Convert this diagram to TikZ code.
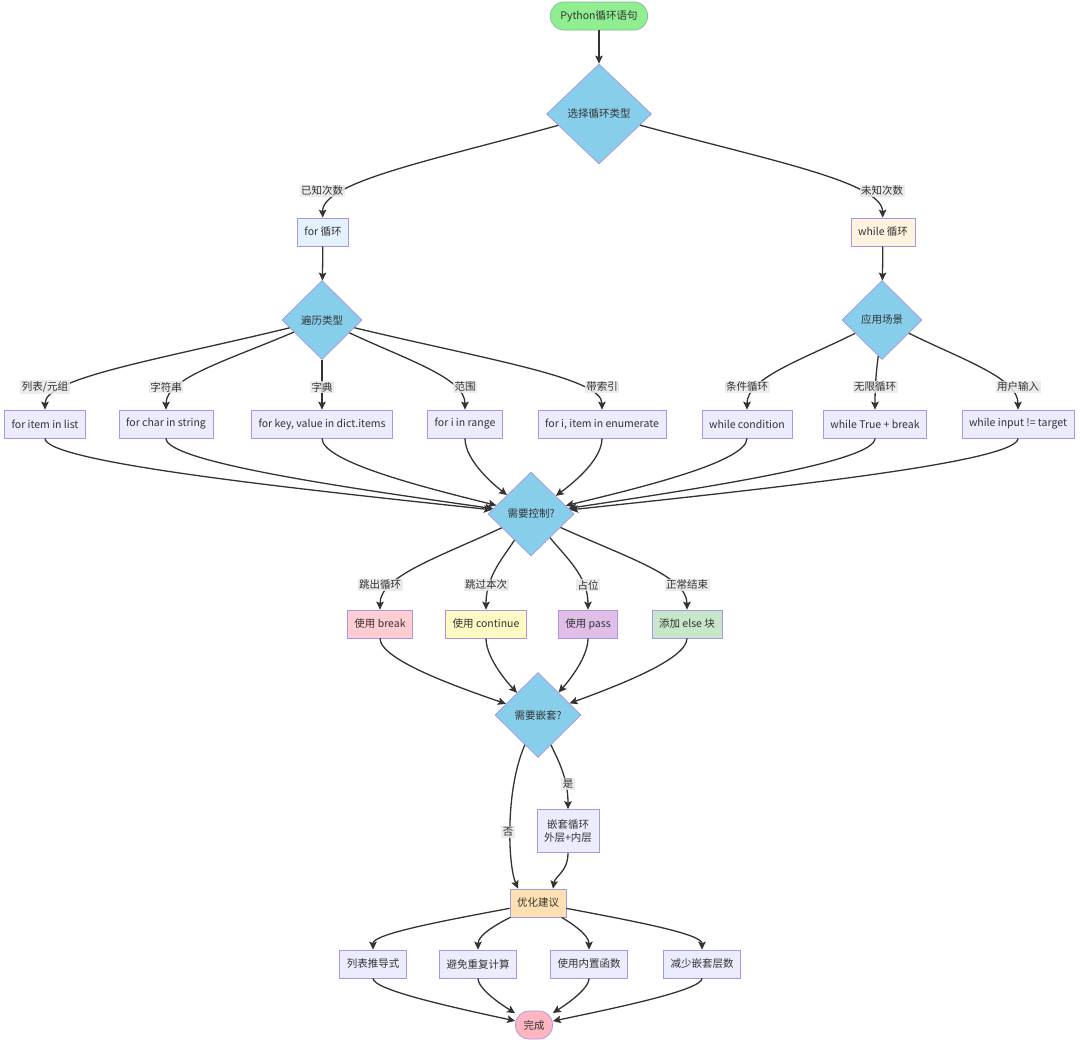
\documentclass[tikz,border=0pt]{standalone}
\usepackage{fontspec}
\setmainfont{Noto Sans CJK SC}
\usetikzlibrary{arrows.meta,calc,shapes.geometric}

\definecolor{inkgray}{HTML}{333333}
\definecolor{lavline}{HTML}{A896E6}
\definecolor{boxfill}{HTML}{ECECFF}
\definecolor{skyfill}{HTML}{87CEEB}
\definecolor{labelbg}{HTML}{E8E8E8}
\definecolor{startgreen}{HTML}{90EE90}
\definecolor{startline}{HTML}{7CBF8A}

\begin{document}
\begin{tikzpicture}[
    x=1pt, y=-1pt,
    >={Stealth[length=8pt,width=7.5pt,inset=1.5pt]},
    every node/.style={font=\fontsize{10.5}{13}\selectfont,text=inkgray},
    plain box/.style={rectangle,draw=lavline,fill=boxfill,line width=0.7pt,minimum height=28pt,inner xsep=7pt,inner ysep=2pt},
    decision/.style={diamond,draw=lavline,fill=skyfill,line width=0.7pt,inner sep=0pt},
    terminal/.style={rectangle,rounded corners=13.5pt,line width=0.7pt,minimum height=28pt,inner xsep=10pt},
    flow/.style={->,inkgray,line width=1.3pt},
    edge label/.style={fill=labelbg,fill opacity=0.85,text opacity=1,inner sep=1.5pt}
]

\useasboundingbox (0,0) rectangle (1080,1044);
\fill[white] (0,0) rectangle (1080,1044);

% Start and first choice
\node[terminal,fill=startgreen,draw=startline] (start) at (599,16) {Python循环语句};
\node[decision,minimum width=105pt,minimum height=100pt] (looptype) at (599,114) {选择循环类型};

% Two kinds of loop
\node[plain box,fill={rgb,255:red,227;green,242;blue,253}] (forloop) at (323,232) {for 循环};
\node[plain box,fill={rgb,255:red,255;green,243;blue,224}] (whileloop) at (883,232) {while 循环};

\node[decision,minimum width=80pt,minimum height=79pt] (itertype) at (322,320) {遍历类型};
\node[decision,minimum width=80pt,minimum height=79pt] (usecase) at (882,320) {应用场景};

% Loop forms
\node[plain box] (forlist) at (45,424) {for item in list};
\node[plain box] (forstr) at (166,424) {for char in string};
\node[plain box] (fordict) at (322,424) {for key, value in dict.items};
\node[plain box] (forrange) at (465,424) {for i in range};
\node[plain box] (forenum) at (602,424) {for i, item in enumerate};
\node[plain box] (whilecond) at (747,424) {while condition};
\node[plain box] (whiletrue) at (875,424) {while True + break};
\node[plain box] (whileinput) at (1018,424) {while input != target};

% Control
\node[decision,minimum width=86pt,minimum height=84pt] (needctrl) at (531,514) {需要控制?};

\node[plain box,fill={rgb,255:red,255;green,205;blue,210}] (usebreak) at (380,624) {使用 break};
\node[plain box,fill={rgb,255:red,255;green,249;blue,196}] (usecont) at (486,624) {使用 continue};
\node[plain box,fill={rgb,255:red,225;green,190;blue,231}] (usepass) at (588,624) {使用 pass};
\node[plain box,fill={rgb,255:red,200;green,230;blue,201}] (useelse) at (687,624) {添加 else 块};

% Nesting
\node[decision,minimum width=86pt,minimum height=85pt] (neednest) at (538,715) {需要嵌套?};
\node[plain box,align=center,minimum height=43pt] (nestloop) at (568,831) {嵌套循环\\外层+内层};

\node[plain box,fill={rgb,255:red,255;green,224;blue,178}] (optim) at (538,903) {优化建议};

\node[plain box] (listcomp) at (373,964) {列表推导式};
\node[plain box] (norepeat) at (478,964) {避免重复计算};
\node[plain box] (builtin) at (589,964) {使用内置函数};
\node[plain box] (lessnest) at (702,964) {减少嵌套层数};

\node[terminal,fill={rgb,255:red,255;green,182;blue,193},draw=lavline,inner xsep=8pt] (done) at (534,1025) {完成};

% Connectors, top part
\draw[flow] (start) -- (looptype);
\draw[flow] (looptype) .. controls ($(looptype)!0.6!(322,191)$) and (322,182) .. (forloop);
\draw[flow] (looptype) .. controls ($(looptype)!0.6!(882,191)$) and (882,182) .. (whileloop);
\draw[flow] (forloop) -- (itertype);
\draw[flow] (whileloop) -- (usecase);

% Connectors to the loop forms
\draw[flow] (itertype) .. controls ($(itertype)!0.6!(45,387)$) and (45,378) .. (forlist);
\draw[flow] (itertype) .. controls ($(itertype)!0.6!(166,387)$) and (166,378) .. (forstr);
\draw[flow] (itertype) -- (fordict);
\draw[flow] (itertype) .. controls ($(itertype)!0.6!(465,387)$) and (465,378) .. (forrange);
\draw[flow] (itertype) .. controls ($(itertype)!0.6!(602,387)$) and (602,378) .. (forenum);
\draw[flow] (usecase) .. controls ($(usecase)!0.6!(747,387)$) and (747,378) .. (whilecond);
\draw[flow] (usecase) .. controls ($(usecase)!0.6!(875,387)$) and (875,378) .. (whiletrue);
\draw[flow] (usecase) .. controls ($(usecase)!0.6!(1018,387)$) and (1018,378) .. (whileinput);

% Loop forms into the control choice
\draw[flow] (forlist) .. controls (45,462) and ($(45,462)!0.5!(needctrl)$) .. (needctrl);
\draw[flow] (forstr) .. controls (166,462) and ($(166,462)!0.5!(needctrl)$) .. (needctrl);
\draw[flow] (fordict) .. controls (322,462) and ($(322,462)!0.5!(needctrl)$) .. (needctrl);
\draw[flow] (forrange) .. controls (465,462) and ($(465,462)!0.5!(needctrl)$) .. (needctrl);
\draw[flow] (forenum) .. controls (602,462) and ($(602,462)!0.5!(needctrl)$) .. (needctrl);
\draw[flow] (whilecond) .. controls (747,462) and ($(747,462)!0.5!(needctrl)$) .. (needctrl);
\draw[flow] (whiletrue) .. controls (875,462) and ($(875,462)!0.5!(needctrl)$) .. (needctrl);
\draw[flow] (whileinput) .. controls (1018,462) and ($(1018,462)!0.5!(needctrl)$) .. (needctrl);

% Control statements
\draw[flow] (needctrl) .. controls ($(needctrl)!0.6!(380,585)$) and (380,576) .. (usebreak);
\draw[flow] (needctrl) .. controls ($(needctrl)!0.6!(486,585)$) and (486,576) .. (usecont);
\draw[flow] (needctrl) .. controls ($(needctrl)!0.6!(588,585)$) and (588,576) .. (usepass);
\draw[flow] (needctrl) .. controls ($(needctrl)!0.6!(687,585)$) and (687,576) .. (useelse);

\draw[flow] (usebreak) .. controls (380,660) and ($(380,660)!0.5!(neednest)$) .. (neednest);
\draw[flow] (usecont) .. controls (486,660) and ($(486,660)!0.5!(neednest)$) .. (neednest);
\draw[flow] (usepass) .. controls (588,660) and ($(588,660)!0.5!(neednest)$) .. (neednest);
\draw[flow] (useelse) .. controls (687,660) and ($(687,660)!0.5!(neednest)$) .. (neednest);

% Nesting branch
\draw[flow] (neednest) .. controls ($(neednest)!0.6!(568,784)$) and (568,776) .. (nestloop);
\draw[flow] (neednest) .. controls (505,790) and (508,865) .. ([xshift=-20pt]optim.north);
\draw[flow] (nestloop) .. controls (568,872) and (555,876) .. ([xshift=15pt]optim.north);

% Advice
\draw[flow] (optim) .. controls ($(optim)!0.6!(373,934)$) and (373,934) .. (listcomp);
\draw[flow] (optim) .. controls ($(optim)!0.6!(478,934)$) and (478,934) .. (norepeat);
\draw[flow] (optim) .. controls ($(optim)!0.6!(589,934)$) and (589,934) .. (builtin);
\draw[flow] (optim) .. controls ($(optim)!0.6!(702,934)$) and (702,934) .. (lessnest);

\draw[flow] (listcomp) .. controls (373,990) and ($(373,990)!0.5!(done)$) .. (done);
\draw[flow] (norepeat) .. controls (478,990) and ($(478,990)!0.5!(done)$) .. (done);
\draw[flow] (builtin) .. controls (589,990) and ($(589,990)!0.5!(done)$) .. (done);
\draw[flow] (lessnest) .. controls (702,990) and ($(702,990)!0.5!(done)$) .. (done);

% Edge labels
\node[edge label] (labknown) at (322,191) {已知次数};
\node[edge label] (labunknown) at (882,191) {未知次数};
\node[edge label] (lablist) at (45,387) {列表/元组};
\node[edge label] (labstr) at (166,387) {字符串};
\node[edge label] (labdict) at (322,387) {字典};
\node[edge label] (labrange) at (465,387) {范围};
\node[edge label] (labenum) at (602,387) {带索引};
\node[edge label] (labcond) at (747,387) {条件循环};
\node[edge label] (labinf) at (875,387) {无限循环};
\node[edge label] (labinput) at (1018,387) {用户输入};
\node[edge label] (labbreak) at (380,585) {跳出循环};
\node[edge label] (labcont) at (486,585) {跳过本次};
\node[edge label] (labpass) at (588,585) {占位};
\node[edge label] (labelse) at (687,585) {正常结束};
\node[edge label] (labyes) at (568,784) {是};
\node[edge label] (labno) at (508,832) {否};

\end{tikzpicture}
\end{document}
